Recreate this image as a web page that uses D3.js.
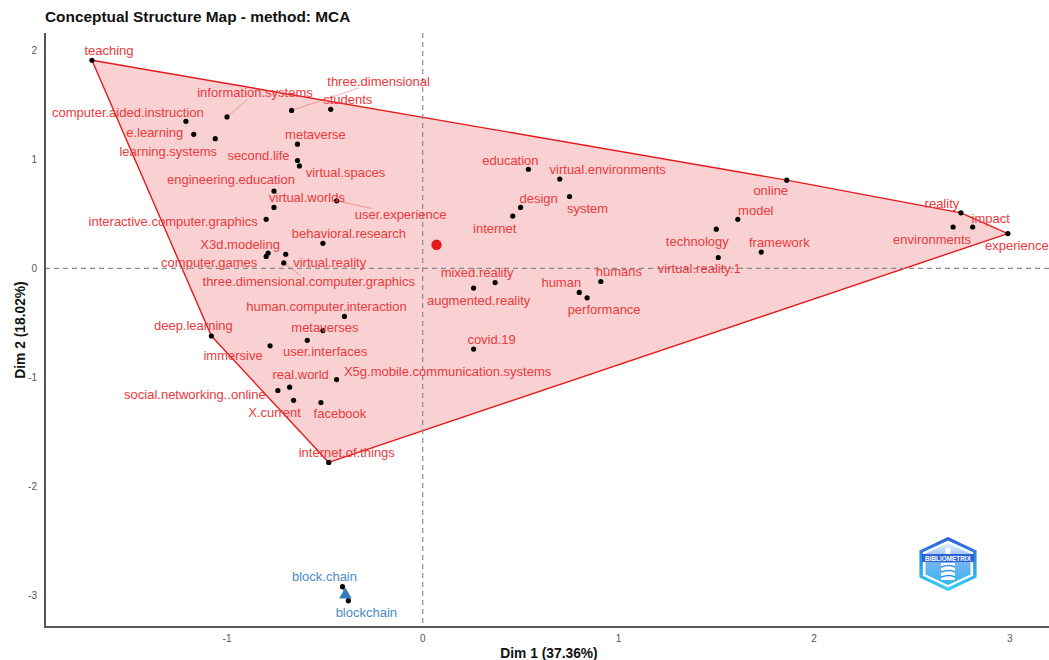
<!DOCTYPE html>
<html>
<head>
<meta charset="utf-8">
<script src="https://cdn.jsdelivr.net/npm/d3@7"></script>
<style>
  html, body { margin: 0; padding: 0; background: #fff; }
  svg { display: block; font-family: "Liberation Sans", Arial, sans-serif; }
</style>
</head>
<body>
<svg id="chart" width="1049" height="660"></svg>
<script>
// MCA word coordinates (Dim 1, Dim 2) and cluster membership
const terms = [
  "teaching", "computer.aided.instruction", "information.systems", "three.dimensional", "students",
  "e.learning", "learning.systems", "metaverse", "second.life", "virtual.spaces",
  "engineering.education", "virtual.worlds", "user.experience", "interactive.computer.graphics", "behavioral.research",
  "X3d.modeling", "computer.games", "virtual.reality", "three.dimensional.computer.graphics", "human.computer.interaction",
  "deep.learning", "metaverses", "immersive", "user.interfaces", "real.world",
  "X5g.mobile.communication.systems", "social.networking..online", "X.current", "facebook", "internet.of.things",
  "education", "virtual.environments", "design", "system", "internet",
  "mixed.reality", "augmented.reality", "human", "performance", "humans",
  "covid.19", "technology", "virtual.reality.1", "online", "model",
  "framework", "reality", "impact", "environments", "experience",
  "block.chain", "blockchain"
];
const dim1 = [
  -1.69, -1.21, -1.00, -0.67, -0.47,
  -1.17, -1.06, -0.64, -0.64, -0.63,
  -0.76, -0.76, -0.44, -0.80, -0.51,
  -0.79, -0.80, -0.70, -0.71, -0.40,
  -1.08, -0.51, -0.78, -0.59, -0.68,
  -0.44, -0.74, -0.66, -0.52, -0.48,
  0.54, 0.70, 0.50, 0.75, 0.46,
  0.37, 0.26, 0.80, 0.84, 0.91,
  0.26, 1.50, 1.51, 1.86, 1.61,
  1.73, 2.75, 2.81, 2.71, 2.99,
  -0.41, -0.38
];
const dim2 = [
  1.91, 1.35, 1.39, 1.45, 1.46,
  1.23, 1.19, 1.14, 0.99, 0.94,
  0.71, 0.56, 0.62, 0.45, 0.23,
  0.14, 0.11, 0.13, 0.05, -0.44,
  -0.62, -0.57, -0.71, -0.66, -1.09,
  -1.02, -1.12, -1.21, -1.23, -1.78,
  0.91, 0.82, 0.56, 0.66, 0.48,
  -0.13, -0.18, -0.22, -0.27, -0.12,
  -0.74, 0.36, 0.10, 0.81, 0.45,
  0.15, 0.51, 0.38, 0.38, 0.32,
  -2.92, -3.05
];
const clusterOf = [
  1,1,1,1,1, 1,1,1,1,1, 1,1,1,1,1, 1,1,1,1,1,
  1,1,1,1,1, 1,1,1,1,1, 1,1,1,1,1, 1,1,1,1,1,
  1,1,1,1,1, 1,1,1,1,1,
  2,2
];
const clusterColors = ["#e41a1c", "#377eb8"];
const xTicks = [-1, 0, 1, 2, 3];
const yTicks = [-3, -2, -1, 0, 1, 2];

// Repelled label placement (pixel offsets from each point); third flag draws a leader segment
const labelOffsets = {
  "teaching": [17, -10], "computer.aided.instruction": [-58, -9], "information.systems": [28, -24, true],
  "three.dimensional": [87, -29, true], "students": [17, -10], "e.learning": [-39, -2],
  "learning.systems": [-47, 13], "metaverse": [18, -10], "second.life": [-39, -5],
  "virtual.spaces": [46, 7], "engineering.education": [-43, -12], "virtual.worlds": [33, -10],
  "user.experience": [64, 14, true], "interactive.computer.graphics": [-93, 2], "behavioral.research": [26, -10],
  "X3d.modeling": [-28, -9], "computer.games": [-57, 6], "virtual.reality": [44, 8],
  "three.dimensional.computer.graphics": [25, 19, true], "human.computer.interaction": [-18, -10],
  "deep.learning": [-18, -10], "metaverses": [2, -3], "immersive": [-37, 10], "user.interfaces": [18, 11],
  "real.world": [11, -13], "X5g.mobile.communication.systems": [111, -8], "social.networking..online": [-83, 4],
  "X.current": [-19, 12], "facebook": [19, 11], "internet.of.things": [18, -10],
  "education": [-18, -9], "virtual.environments": [48, -10], "design": [18, -9], "system": [18, 12],
  "internet": [-18, 12], "mixed.reality": [-18, -10], "augmented.reality": [5, 12], "human": [-18, -10],
  "performance": [17, 12], "humans": [18, -10], "covid.19": [18, -10], "technology": [-19, 12],
  "virtual.reality.1": [-19, 11], "online": [-16, 10], "model": [18, -9], "framework": [18, -10],
  "reality": [-19, -9], "impact": [18, -9], "environments": [-21, 12], "experience": [9, 12],
  "block.chain": [-18, -10], "blockchain": [18, 12]
};

const svg = d3.select("#chart");
const plot = { left: 45, right: 1049, top: 33, bottom: 627 };

const x = d3.scaleLinear().domain([-1.93, 3.2]).range([plot.left, plot.right]);
const y = d3.scaleLinear().domain([-3.29, 2.16]).range([plot.bottom, plot.top]);

const points = terms.map((t, i) => ({ term: t, d1: dim1[i], d2: dim2[i], cl: clusterOf[i] }));

// Title
svg.append("text").attr("x", 45).attr("y", 22)
  .attr("font-size", 15.4).attr("font-weight", "bold").attr("fill", "#111")
  .text("Conceptual Structure Map - method: MCA");

const g = svg.append("g");

// Cluster hulls
const clusters = d3.groups(points, d => d.cl).sort((a, b) => a[0] - b[0]);
clusters.forEach(([cl, pts]) => {
  const col = clusterColors[cl - 1];
  const coords = pts.map(p => [x(p.d1), y(p.d2)]);
  const hull = coords.length > 2 ? d3.polygonHull(coords) : coords;
  g.append("path")
    .attr("d", "M" + hull.join("L") + "Z")
    .attr("fill", col).attr("fill-opacity", 0.2)
    .attr("stroke", col).attr("stroke-width", 1.4).attr("stroke-linejoin", "round");
});

// Reference lines through the origin
g.append("line").attr("x1", x(0)).attr("x2", x(0)).attr("y1", plot.top).attr("y2", plot.bottom)
  .attr("stroke", "#8a8a8a").attr("stroke-width", 1.2).attr("stroke-dasharray", "5,4");
g.append("line").attr("x1", plot.left).attr("x2", plot.right).attr("y1", y(0)).attr("y2", y(0))
  .attr("stroke", "#8a8a8a").attr("stroke-width", 1.2).attr("stroke-dasharray", "5,4");

// Cluster centroids
clusters.forEach(([cl, pts]) => {
  const col = clusterColors[cl - 1];
  const cx = d3.mean(pts, p => p.d1), cy = d3.mean(pts, p => p.d2);
  if (cl === 1) {
    g.append("circle").attr("cx", x(cx)).attr("cy", y(cy)).attr("r", 5.2).attr("fill", col);
  } else {
    g.append("path").attr("d", d3.symbol(d3.symbolTriangle, 70)())
      .attr("transform", `translate(${x(cx)},${y(cy) + 1})`).attr("fill", col);
  }
});

const leaderLayer = g.append("g");

// Word points
g.selectAll("circle.pt").data(points).join("circle").attr("class", "pt")
  .attr("cx", d => x(d.d1)).attr("cy", d => y(d.d2)).attr("r", 2.6).attr("fill", "#000");

// Word labels
const labels = g.selectAll("text.lab").data(points).join("text").attr("class", "lab")
  .attr("x", d => x(d.d1) + labelOffsets[d.term][0])
  .attr("y", d => y(d.d2) + labelOffsets[d.term][1])
  .attr("text-anchor", "middle").attr("dominant-baseline", "central")
  .attr("font-size", 13)
  .attr("fill", d => d.cl === 1 ? "#ea3a3c" : "#4a8cc4")
  .text(d => d.term);

// Leader segments end at the edge of the label box
labels.each(function (d) {
  const off = labelOffsets[d.term];
  if (!off[2]) return;
  const b = this.getBBox();
  const px = x(d.d1), py = y(d.d2);
  const cx = b.x + b.width / 2, cy = b.y + b.height / 2;
  const dx = cx - px, dy = cy - py;
  const hw = b.width / 2 + 1, hh = b.height / 2 - 1;
  const t = 1 - Math.min(hw / Math.abs(dx || 1e-9), hh / Math.abs(dy || 1e-9));
  if (t <= 0) return;
  leaderLayer.append("line").attr("x1", px).attr("y1", py)
    .attr("x2", px + dx * t).attr("y2", py + dy * t)
    .attr("stroke", clusterColors[d.cl - 1]).attr("stroke-opacity", 0.5).attr("stroke-width", 0.7);
});

// Axes
const axisCol = "#555";
svg.append("line").attr("x1", plot.left).attr("x2", plot.left).attr("y1", plot.top).attr("y2", plot.bottom + 1)
  .attr("stroke", axisCol).attr("stroke-width", 2);
svg.append("line").attr("x1", plot.left - 1).attr("x2", plot.right).attr("y1", plot.bottom).attr("y2", plot.bottom)
  .attr("stroke", axisCol).attr("stroke-width", 2);

svg.append("g").selectAll("text").data(xTicks).join("text")
  .attr("x", d => x(d)).attr("y", plot.bottom + 15)
  .attr("text-anchor", "middle").attr("font-size", 10).attr("fill", "#555")
  .text(d => d);
svg.append("g").selectAll("text").data(yTicks).join("text")
  .attr("x", plot.left - 8).attr("y", d => y(d)).attr("dominant-baseline", "central")
  .attr("text-anchor", "end").attr("font-size", 10).attr("fill", "#555")
  .text(d => d);

svg.append("text").attr("x", 549).attr("y", 658).attr("text-anchor", "middle")
  .attr("font-size", 13.8).attr("font-weight", "bold").attr("fill", "#111").text("Dim 1 (37.36%)");
svg.append("text").attr("transform", "translate(25,330) rotate(-90)").attr("text-anchor", "middle")
  .attr("font-size", 13.8).attr("font-weight", "bold").attr("fill", "#111").text("Dim 2 (18.02%)");

// bibliometrix badge
const defs = svg.append("defs");
const grad = defs.append("linearGradient").attr("id", "badge").attr("x1", 0).attr("y1", 0).attr("x2", 0).attr("y2", 1);
grad.append("stop").attr("offset", "0%").attr("stop-color", "#2a5fd8");
grad.append("stop").attr("offset", "100%").attr("stop-color", "#36d2f7");
const grad2 = defs.append("linearGradient").attr("id", "badgeIn").attr("x1", 0).attr("y1", 0).attr("x2", 0).attr("y2", 1);
grad2.append("stop").attr("offset", "0%").attr("stop-color", "#e9f1ff");
grad2.append("stop").attr("offset", "40%").attr("stop-color", "#7fb2f2");
grad2.append("stop").attr("offset", "100%").attr("stop-color", "#2fb8f0");
const badge = svg.append("g").attr("transform", "translate(948,564)");
const hex = (rx, ry) => d3.range(6).map(i => {
  const a = Math.PI / 3 * i - Math.PI / 2;
  return [rx * Math.cos(a), ry * Math.sin(a)];
});
badge.append("path").attr("d", "M" + hex(33, 27).join("L") + "Z").attr("fill", "url(#badge)");
badge.append("path").attr("d", "M" + hex(29, 23.5).join("L") + "Z").attr("fill", "#fff");
badge.append("path").attr("d", "M" + hex(26, 21).join("L") + "Z").attr("fill", "url(#badgeIn)");
badge.append("rect").attr("x", -26).attr("y", -10).attr("width", 52).attr("height", 8).attr("fill", "#2c64d6");
badge.append("text").attr("x", 0).attr("y", -3.4).attr("text-anchor", "middle")
  .attr("font-size", 6.4).attr("font-weight", "bold").attr("fill", "#fff").text("BIBLIOMETRIX");
badge.append("rect").attr("x", -2.5).attr("y", -16).attr("width", 5).attr("height", 6).attr("fill", "#fff");
badge.append("path").attr("d", "M-7,-1 L7,-1 L7,16 L-7,16 Z").attr("fill", "#fff");
[3, 8, 13].forEach(yy => badge.append("path")
  .attr("d", `M-7,${yy} Q2,${yy - 3} 7,${yy}`).attr("stroke", "#2a8ee6").attr("stroke-width", 1.6).attr("fill", "none"));
</script>
</body>
</html>
